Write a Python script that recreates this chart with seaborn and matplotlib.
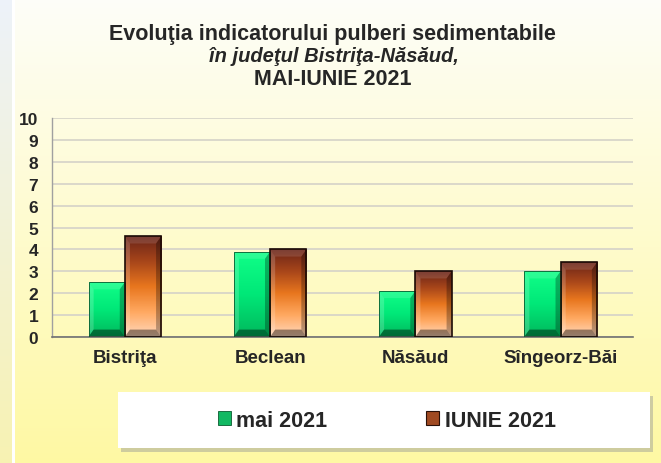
import numpy as np
import pandas as pd
import seaborn as sns
import matplotlib.pyplot as plt
from matplotlib.colors import LinearSegmentedColormap
from matplotlib.patches import Polygon, Patch, Rectangle

sns.set_style("white")
plt.rcParams['font.family'] = ['Liberation Sans', 'DejaVu Sans']
plt.rcParams['font.weight'] = 'bold'

# values
locations = ["Bistriţa", "Beclean", "Năsăud", "Sîngeorz-Băi"]
mai_2021 = [2.5, 3.9, 2.1, 3.0]
iunie_2021 = [4.6, 4.0, 3.0, 3.4]
series_names = ["mai 2021", "IUNIE 2021"]

df = pd.DataFrame({
    "loc": locations * 2,
    "val": mai_2021 + iunie_2021,
    "serie": [series_names[0]] * 4 + [series_names[1]] * 4,
})

fig = plt.figure(figsize=(6.61, 4.64), dpi=100)

# background: near white at top fading to pale yellow, blue-ish strip on the left
bg = fig.add_axes([0, 0, 1, 1], zorder=-5)
H, W = 464, 661
t = np.linspace(0, 1, H)[:, None]
top = np.array([0.995, 0.995, 0.975])
bot = np.array([1.0, 0.975, 0.64])
img = top[None, None, :] * (1 - t[..., None]) + bot[None, None, :] * t[..., None]
img = np.repeat(img, W, axis=1)
strip_top = np.array([0.93, 0.95, 0.98])
strip_bot = np.array([0.97, 0.95, 0.70])
strip = strip_top[None, :] * (1 - t) + strip_bot[None, :] * t
img[:, :12, :] = strip[:, None, :]
img[:, 12:15, :] = 1.0
bg.imshow(img, extent=[0, 1, 0, 1], aspect='auto')
bg.set_axis_off()

ax = fig.add_axes([0.079, 0.272, 0.879, 0.471])
ax.patch.set_alpha(0)

sns.barplot(data=df, x="loc", y="val", hue="serie", order=locations,
            hue_order=series_names, width=0.5, gap=0, legend=False,
            palette=["#10D070", "#B05020"], edgecolor="none", ax=ax)

green_cmap = LinearSegmentedColormap.from_list("g", ["#00B85C", "#00E878", "#10FF88"])
brown_cmap = LinearSegmentedColormap.from_list(
    "b", ["#FFD8BC", "#FFA860", "#E8761E", "#A8461A", "#6A2418"])

xlim = (-0.5, 3.5)
for cont, cmap, edge in zip(ax.containers, [green_cmap, brown_cmap], ["#0A5A30", "#1A0A05"]):
    for bar in cont:
        x, y = bar.get_x(), bar.get_y()
        w, h = bar.get_width(), bar.get_height()
        grad = np.linspace(0, 1, 100)[:, None]
        im = ax.imshow(grad, extent=[x, x + w, y, y + h], origin='lower',
                       cmap=cmap, aspect='auto', zorder=2)
        im.set_clip_path(bar)
        bx, by = w * 0.14, 0.33
        faces = [
            ([(x, y + h), (x + w, y + h), (x + w - bx, y + h - by), (x + bx, y + h - by)], "white", 0.12),
            ([(x, y), (x + bx, y + by), (x + bx, y + h - by), (x, y + h)], "white", 0.18),
            ([(x + w, y), (x + w, y + h), (x + w - bx, y + h - by), (x + w - bx, y + by)], "black", 0.28),
            ([(x, y), (x + w, y), (x + w - bx, y + by), (x + bx, y + by)], "black", 0.42),
        ]
        for pts, col, a in faces:
            ax.add_patch(Polygon(pts, closed=True, facecolor=col, alpha=a,
                                 edgecolor="none", zorder=3))
        ax.add_patch(Rectangle((x, y), w, h, fill=False, edgecolor=edge,
                               lw=1.2 if edge == "#1A0A05" else 0.6, zorder=4))

ax.set_xlim(xlim)
ax.set_ylim(0, 10)
ax.set_yticks(range(0, 11))
ax.yaxis.grid(True, color="#D4D2C8", lw=1.2)
ax.set_axisbelow(True)
ax.tick_params(axis='y', length=0, labelsize=12.5, pad=10)
ax.tick_params(axis='x', length=0, labelsize=13.5, pad=9)
ax.set_xlabel("")
ax.set_ylabel("")
for s in ["top", "right"]:
    ax.spines[s].set_visible(False)
ax.spines["left"].set_color("#A0A0A0")
ax.spines["bottom"].set_color("#707070")
ax.spines["left"].set_linewidth(1.0)
ax.spines["bottom"].set_linewidth(1.2)
for lab in ax.get_yticklabels() + ax.get_xticklabels():
    lab.set_fontweight('bold')

fig.text(0.503, 0.925, "Evoluţia indicatorului pulberi sedimentabile",
         ha='center', va='center', fontsize=15.5, fontweight='bold')
fig.text(0.5045, 0.878, "în judeţul Bistriţa-Năsăud,",
         ha='center', va='center', fontsize=14.5, fontweight='bold', style='italic')
fig.text(0.503, 0.828, "MAI-IUNIE 2021",
         ha='center', va='center', fontsize=15.5, fontweight='bold')

# legend box with a soft shadow
box = (0.1785, 0.0323, 0.805, 0.1207)
fig.patches.append(Rectangle((box[0] + 0.005, box[1] - 0.008), box[2], box[3],
                             transform=fig.transFigure, facecolor="#A8A89A",
                             alpha=0.55, edgecolor="none", zorder=1))
fig.patches.append(Rectangle((box[0], box[1]), box[2], box[3],
                             transform=fig.transFigure, facecolor="white",
                             edgecolor="none", zorder=2))

handles = [Patch(facecolor="#12B862", edgecolor="#0A5A30", lw=0.6),
           Patch(facecolor="#A04A22", edgecolor="#2A1008", lw=0.8)]
leg = fig.legend(handles, series_names, loc='center',
                 bbox_to_anchor=(box[0] + box[2] / 2 + 0.004, box[1] + box[3] / 2),
                 bbox_transform=fig.transFigure, ncol=2, frameon=False,
                 prop={'weight': 'bold', 'size': 15.5}, handlelength=0.6,
                 handleheight=0.6, handletextpad=0.25, columnspacing=4.6)
leg.set_zorder(3)

fig.savefig("out.png", dpi=100)
